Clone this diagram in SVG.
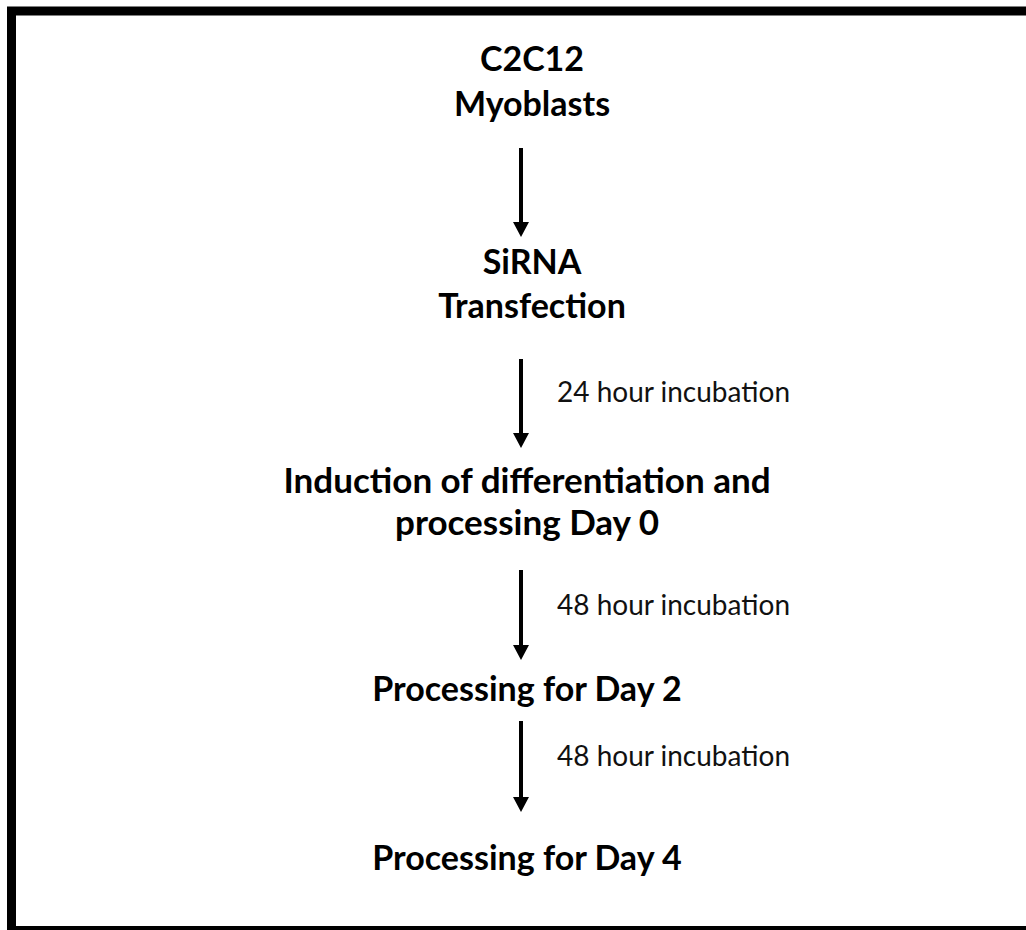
<svg xmlns="http://www.w3.org/2000/svg" width="1026" height="930" viewBox="0 0 1026 930">
<style>
.t{font-family:Lato,"Liberation Sans",sans-serif;font-weight:bold;fill:#000;text-anchor:middle;font-size:34px}
.s{font-family:Lato,"Liberation Sans",sans-serif;font-size:28px;fill:#111}
.c{stroke:#000;stroke-width:4;fill:none}
</style>
<rect x="0" y="0" width="1026" height="930" fill="#fff"/>
<rect id="frame" x="11.5" y="11" width="1030" height="919.5" fill="none" stroke="#000" stroke-width="9"/>
<g id="connectors">
<line class="c" x1="521" y1="148" x2="521" y2="224"/>
<path d="M513,222 L529,222 L521,237 Z"/>
<line class="c" x1="521" y1="359" x2="521" y2="435"/>
<path d="M513,433 L529,433 L521,448 Z"/>
<line class="c" x1="521" y1="570" x2="521" y2="647"/>
<path d="M513,645 L529,645 L521,660 Z"/>
<line class="c" x1="521" y1="721" x2="521" y2="799"/>
<path d="M513,797 L529,797 L521,812 Z"/>
<text class="s" x="557" y="402">24 hour incubation</text>
<text class="s" x="557" y="615">48 hour incubation</text>
<text class="s" x="557" y="766">48 hour incubation</text>
</g>
<g id="n1"><text class="t" x="532" y="71">C2C12</text><text class="t" x="532" y="116">Myoblasts</text></g>
<g id="n2"><text class="t" x="532" y="274">SiRNA</text><text class="t" x="532" y="318">Transfection</text></g>
<g id="n3"><text class="t" x="527" y="493" style="font-size:35px">Induction of differentiation and</text><text class="t" x="527" y="535" style="font-size:35px">processing Day 0</text></g>
<g id="n4"><text class="t" x="527" y="701">Processing for Day 2</text></g>
<g id="n5"><text class="t" x="527" y="870">Processing for Day 4</text></g>
</svg>
